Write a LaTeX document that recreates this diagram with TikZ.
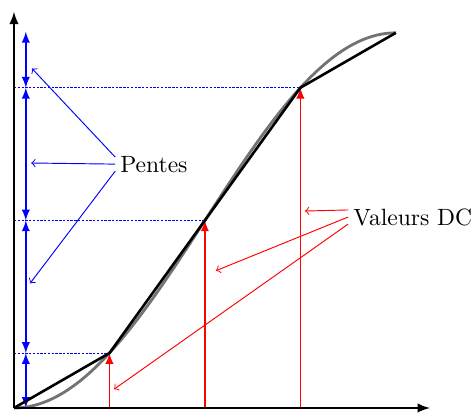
\documentclass[tikz,border=0pt]{standalone}
\begin{document}
\begin{tikzpicture}[x=0.57cm,y=0.56cm]
  \useasboundingbox (-0.366,-0.212) rectangle (12.02,10.875);
  % points de la caracteristique
  \coordinate (o) at (0,0);
  \coordinate (p1) at (2.5,1.464);
  \coordinate (p2) at (5,5);
  \coordinate (p3) at (7.5,8.536);
  \coordinate (p4) at (10,10);
  % paliers
  \draw[blue,line width=0.3pt,dash pattern=on 1pt off 0.6pt] (0,1.464) -- (p1);
  \draw[blue,line width=0.3pt,dash pattern=on 1pt off 0.6pt] (0,5) -- (p2);
  \draw[blue,line width=0.3pt,dash pattern=on 1pt off 0.6pt] (0,8.536) -- (p3);
  \draw[blue,semithick,<->,>=latex] (0.31,0) -- (0.31,1.464);
  \draw[blue,semithick,<->,>=latex] (0.31,1.464) -- (0.31,5);
  \draw[blue,semithick,<->,>=latex] (0.31,5) -- (0.31,8.536);
  \draw[blue,semithick,<->,>=latex] (0.31,8.536) -- (0.31,10.03);
  % valeurs DC
  \draw[red,semithick,-latex] (2.5,0) -- (p1);
  \draw[red,semithick,-latex] (5,0) -- (p2);
  \draw[red,semithick,-latex] (7.5,0) -- (p3);
  % courbes
  \draw[black!55,line width=1.2pt,domain=0:10,samples=80]
    plot (\x,{5*(1-cos(18*\x))});
  \draw[line width=1.1pt] (o) -- (p1) -- (p2) -- (p3) -- (p4);
  % axes
  \draw[thick,-latex] (o) -- (10.89,0);
  \draw[thick,-latex] (o) -- (0,10.56);
  % legendes
  \node[right,inner sep=2pt] (pentes) at (2.65,6.5) {Pentes};
  \node[right,inner sep=2pt] (dc) at (8.75,5.09) {Valeurs DC};
  \coordinate (b1) at (0.47,9.05);
  \coordinate (b2) at (0.45,6.53);
  \coordinate (b3) at (0.42,3.32);
  \draw[blue,thin,->] ([yshift=3pt]pentes.west) -- (b1);
  \draw[blue,thin,->] (pentes.west) -- (b2);
  \draw[blue,thin,->] ([yshift=-3pt]pentes.west) -- (b3);
  \coordinate (r1) at (7.62,5.25);
  \coordinate (r2) at (5.29,3.66);
  \coordinate (r3) at (2.62,0.50);
  \draw[red,thin,->] ([yshift=3pt]dc.west) -- (r1);
  \draw[red,thin,->] (dc.west) -- (r2);
  \draw[red,thin,->] ([yshift=-3pt]dc.west) -- (r3);
\end{tikzpicture}
\end{document}
